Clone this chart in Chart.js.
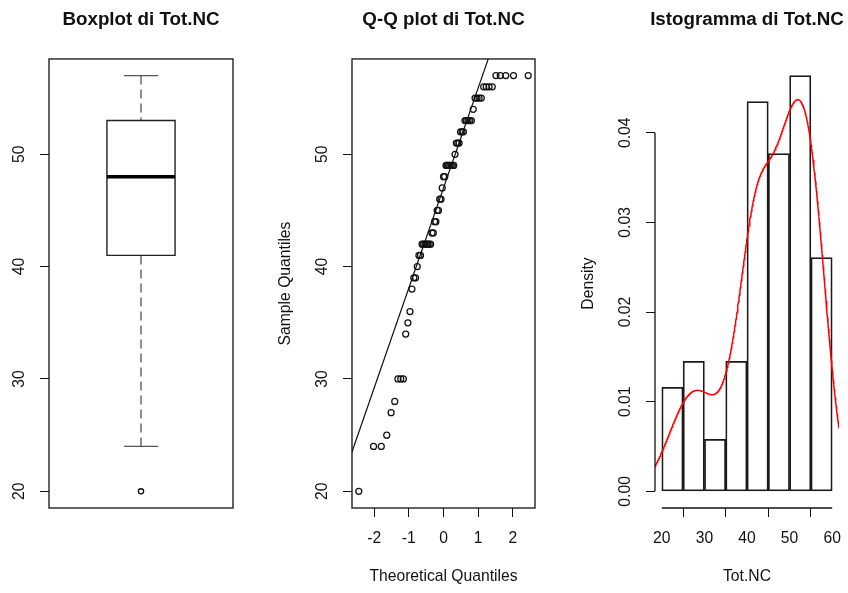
<!DOCTYPE html>
<html>
<head>
<meta charset="utf-8">
<script src="https://cdn.jsdelivr.net/npm/chart.js@4.4.1/dist/chart.umd.min.js"></script>
<style>
html,body{margin:0;padding:0;background:#fff;overflow:hidden;width:848px;height:593px;position:relative;}
canvas{position:absolute;top:0;}
</style>
</head>
<body>
<canvas id="c1" width="282" height="593" style="left:0px"></canvas>
<canvas id="c2" width="343" height="593" style="left:272px"></canvas>
<canvas id="c3" width="344" height="593" style="left:575px"></canvas>
<script>
// ---- data ----
const sample = [20,24,24,25,27,28,30,30,30,34,35,36,38,39,39,40,41,41,
  42,42,42,42,42,42,42,43,43,44,44,45,45,46,46,47,48,48,
  49,49,49,49,49,49,49,50,51,51,51,52,52,52,53,53,53,53,53,
  54,55,55,55,55,56,56,56,56,57,57,57,57,57];
const sampleTicks = [20, 30, 40, 50];
const qqXTicks = [-2, -1, 0, 1, 2];
const histBreaks = [20, 25, 30, 35, 40, 45, 50, 55, 60];
const histXTicks = [20, 30, 40, 50, 60];
const histYTicks = [0, 0.01, 0.02, 0.03, 0.04];
const panelTitles = ['Boxplot di Tot.NC', 'Q-Q plot di Tot.NC', 'Istogramma di Tot.NC'];
const axisTitles = { qqX: 'Theoretical Quantiles', qqY: 'Sample Quantiles', histX: 'Tot.NC', histY: 'Density' };

// ---- statistics (as R computes them) ----
const sorted = sample.slice().sort((a, b) => a - b);
const n = sorted.length;
function quantile7(x, p) { const h = (x.length - 1) * p, lo = Math.floor(h); return lo + 1 < x.length ? x[lo] + (h - lo) * (x[lo + 1] - x[lo]) : x[lo]; }
function qnorm(p) {
  const a=[-3.969683028665376e+01,2.209460984245205e+02,-2.759285104469687e+02,1.383577518672690e+02,-3.066479806614716e+01,2.506628277459239e+00];
  const b=[-5.447609879822406e+01,1.615858368580409e+02,-1.556989798598866e+02,6.680131188771972e+01,-1.328068155288572e+01];
  const c=[-7.784894002430293e-03,-3.223964580411365e-01,-2.400758277161838e+00,-2.549732539343734e+00,4.374664141464968e+00,2.938163982698783e+00];
  const d=[7.784695709041462e-03,3.224671290700398e-01,2.445134137142996e+00,3.754408661907416e+00];
  const pl = 0.02425;
  if (p < pl) { const q = Math.sqrt(-2*Math.log(p)); return (((((c[0]*q+c[1])*q+c[2])*q+c[3])*q+c[4])*q+c[5])/((((d[0]*q+d[1])*q+d[2])*q+d[3])*q+1); }
  if (p > 1 - pl) { const q = Math.sqrt(-2*Math.log(1-p)); return -(((((c[0]*q+c[1])*q+c[2])*q+c[3])*q+c[4])*q+c[5])/((((d[0]*q+d[1])*q+d[2])*q+d[3])*q+1); }
  const q = p - 0.5, r = q*q;
  return (((((a[0]*r+a[1])*r+a[2])*r+a[3])*r+a[4])*r+a[5])*q/(((((b[0]*r+b[1])*r+b[2])*r+b[3])*r+b[4])*r+1);
}
function extRange(lo, hi) { const e = 0.04 * (hi - lo); return [lo - e, hi + e]; }

// boxplot.stats (fivenum hinges, coef 1.5)
const n4 = Math.floor((n + 3) / 2) / 2;
const fiveIdx = [1, n4, (n + 1) / 2, n + 1 - n4, n];
const five = fiveIdx.map(dd => 0.5 * (sorted[Math.floor(dd) - 1] + sorted[Math.ceil(dd) - 1]));
const iqrB = five[3] - five[1];
const inside = sorted.filter(v => v >= five[1] - 1.5 * iqrB && v <= five[3] + 1.5 * iqrB);
const box = { lo: inside[0], q1: five[1], med: five[2], q3: five[3], hi: inside[inside.length - 1] };
const outliers = sorted.filter(v => v < box.lo || v > box.hi);

// Q-Q
const qqPoints = sorted.map((v, i) => ({ x: qnorm((i + 0.5) / n), y: v }));
const qy1 = quantile7(sorted, 0.25), qy3 = quantile7(sorted, 0.75);
const qx1 = qnorm(0.25), qx3 = qnorm(0.75);
const qqSlope = (qy3 - qy1) / (qx3 - qx1), qqInt = qy1 - qqSlope * qx1;

// histogram (right-closed, include lowest)
const histDensity = [];
for (let i = 0; i < histBreaks.length - 1; i++) {
  const a = histBreaks[i], b = histBreaks[i + 1];
  const cnt = sorted.filter(v => (i === 0 ? v >= a : v > a) && v <= b).length;
  histDensity.push({ x: (a + b) / 2, y: cnt / (n * (b - a)) });
}
// density() with bw.nrd0
const mean = sorted.reduce((s, v) => s + v, 0) / n;
const sd = Math.sqrt(sorted.reduce((s, v) => s + (v - mean) ** 2, 0) / (n - 1));
const iqr7 = quantile7(sorted, 0.75) - quantile7(sorted, 0.25);
const bw = 0.9 * Math.min(sd, iqr7 / 1.34) * Math.pow(n, -0.2);
const kde = [];
{
  const from = sorted[0] - 3 * bw, to = sorted[n - 1] + 3 * bw, m = 512;
  for (let k = 0; k < m; k++) {
    const x = from + (to - from) * k / (m - 1);
    let s = 0;
    for (const v of sorted) { const z = (x - v) / bw; s += Math.exp(-0.5 * z * z); }
    kde.push({ x, y: s / (n * bw * Math.sqrt(2 * Math.PI)) });
  }
}

// ---- styling ----
const FONT = "'Liberation Sans', Arial, Helvetica, sans-serif";
const AX = 15.7, TT = 18.8, INK = '#111';
Chart.defaults.font.family = FONT;
Chart.defaults.font.size = AX;
Chart.defaults.color = INK;

const rPlot = {
  id: 'rPlot',
  afterDatasetsDraw(chart, args, opts) {
    const ctx = chart.ctx, a = chart.chartArea;
    ctx.save();
    ctx.strokeStyle = INK; ctx.lineWidth = 1.3;
    if (opts.box) ctx.strokeRect(a.left, a.top, a.right - a.left, a.bottom - a.top);
    (opts.lines || []).forEach(id => {
      const s = chart.scales[id], t = s.ticks;
      const p0 = s.getPixelForValue(t[0].value), p1 = s.getPixelForValue(t[t.length - 1].value);
      ctx.beginPath();
      if (s.isHorizontal()) { ctx.moveTo(p0, s.top); ctx.lineTo(p1, s.top); }
      else { ctx.moveTo(s.right, p0); ctx.lineTo(s.right, p1); }
      ctx.stroke();
    });
    ctx.restore();
  }
};
const fixTicks = vals => s => { s.ticks = vals.map(v => ({ value: v })); };
const gridTicks = { display: true, drawOnChartArea: false, drawTicks: true, tickLength: 9, color: INK, lineWidth: 1 };
function yAxis(range, ticks, W, pad, fmt, title) {
  return {
    type: 'linear', position: 'left', min: range[0], max: range[1],
    afterBuildTicks: fixTicks(ticks), afterFit: s => { s.width = W; },
    ticks: { minRotation: 90, maxRotation: 90, crossAlign: 'center', padding: pad, autoSkip: false, color: INK, font: { size: AX }, callback: fmt },
    grid: gridTicks, border: { display: false },
    title: title ? { display: true, text: title, color: INK, font: { size: AX }, padding: { top: 4.1, bottom: 0 } } : { display: false }
  };
}
function xAxis(range, ticks, title) {
  return {
    type: 'linear', position: 'bottom', min: range[0], max: range[1], offset: false,
    afterBuildTicks: fixTicks(ticks), afterFit: s => { s.height = 85; },
    ticks: { padding: 12.6, autoSkip: false, maxRotation: 0, minRotation: 0, color: INK, font: { size: AX }, callback: v => String(v) },
    grid: gridTicks, border: { display: false },
    title: { display: true, text: title, color: INK, font: { size: AX }, padding: { top: 0, bottom: 6.6 } }
  };
}
const dummyRight = W => ({ type: 'linear', position: 'right', display: true, afterFit: s => { s.width = W; }, ticks: { display: false }, grid: { display: false }, border: { display: false } });
function basePlugins(title, rp) {
  return {
    title: { display: true, text: title, color: INK, font: { size: TT, weight: 'bold' }, padding: { top: 8.7, bottom: 27.7 }, fullSize: true, align: 'center' },
    legend: { display: false }, tooltip: { enabled: false }, rPlot: rp
  };
}
const common = { responsive: false, animation: false, devicePixelRatio: 1, events: [] };
const seg = (pts, extra) => Object.assign({ data: pts, showLine: true, pointRadius: 0, tension: 0, fill: false }, extra);

// ---- panel 1: boxplot ----
const sampleRange = extRange(sorted[0], sorted[n - 1]);
const boxHalf = 0.2, stapleHalf = 0.1;
new Chart(document.getElementById('c1'), {
  type: 'scatter',
  data: { datasets: [
    seg([{ x: 1 - boxHalf, y: box.med }, { x: 1 + boxHalf, y: box.med }], { borderColor: '#000', borderWidth: 3.6 }),
    seg([{ x: 1 - boxHalf, y: box.q1 }, { x: 1 + boxHalf, y: box.q1 }, { x: 1 + boxHalf, y: box.q3 }, { x: 1 - boxHalf, y: box.q3 }, { x: 1 - boxHalf, y: box.q1 }],
        { borderColor: '#222', borderWidth: 1.4, borderCapStyle: 'square', borderJoinStyle: 'miter' }),
    seg([{ x: 1, y: box.hi }, { x: 1, y: box.q3 }], { borderColor: '#555', borderWidth: 1.3, borderDash: [9, 5] }),
    seg([{ x: 1, y: box.lo }, { x: 1, y: box.q1 }], { borderColor: '#555', borderWidth: 1.3, borderDash: [9, 5] }),
    seg([{ x: 1 - stapleHalf, y: box.hi }, { x: 1 + stapleHalf, y: box.hi }], { borderColor: '#555', borderWidth: 1.4 }),
    seg([{ x: 1 - stapleHalf, y: box.lo }, { x: 1 + stapleHalf, y: box.lo }], { borderColor: '#555', borderWidth: 1.4 }),
    { data: outliers.map(v => ({ x: 1, y: v })), pointRadius: 2.6, pointBorderWidth: 1.3, pointBorderColor: INK, pointBackgroundColor: 'rgba(0,0,0,0)' }
  ] },
  options: Object.assign({}, common, {
    layout: { padding: { top: 0, left: 0, right: 0, bottom: 85 } },
    scales: {
      x: { type: 'linear', min: 0.46, max: 1.54, display: false },
      y: yAxis(sampleRange, sampleTicks, 49, 11.3, v => String(v), null),
      yR: dummyRight(49)
    },
    plugins: basePlugins(panelTitles[0], { box: true })
  }),
  plugins: [rPlot]
});

// ---- panel 2: Q-Q plot ----
const qqRange = extRange(qqPoints[0].x, qqPoints[n - 1].x);
new Chart(document.getElementById('c2'), {
  type: 'scatter',
  data: { datasets: [
    seg([{ x: qqRange[0] - 1, y: qqInt + qqSlope * (qqRange[0] - 1) }, { x: qqRange[1] + 1, y: qqInt + qqSlope * (qqRange[1] + 1) }], { borderColor: INK, borderWidth: 1.2 }),
    { data: qqPoints, pointRadius: 3, pointBorderWidth: 1.25, pointBorderColor: INK, pointBackgroundColor: 'rgba(0,0,0,0)' }
  ] },
  options: Object.assign({}, common, {
    layout: { padding: 0 },
    scales: {
      x: xAxis(qqRange, qqXTicks, axisTitles.qqX),
      y: yAxis(sampleRange, sampleTicks, 80, 11.3, v => String(v), axisTitles.qqY),
      yR: dummyRight(80)
    },
    plugins: basePlugins(panelTitles[1], { box: true })
  }),
  plugins: [rPlot]
});

// ---- panel 3: histogram + density ----
const histXRange = extRange(histBreaks[0], histBreaks[histBreaks.length - 1]);
const histYRange = extRange(0, Math.max(...histDensity.map(p => p.y)));
new Chart(document.getElementById('c3'), {
  type: 'bar',
  data: { datasets: [
    { type: 'line', data: kde, borderColor: '#ff0000', borderWidth: 1.5, pointRadius: 0, tension: 0, fill: false, order: 0 },
    { type: 'bar', data: histDensity, backgroundColor: 'rgba(0,0,0,0)', borderColor: '#1a1a1a', borderWidth: 1.1, borderSkipped: false,
      barPercentage: 1, categoryPercentage: 1, order: 1 }
  ] },
  options: Object.assign({}, common, {
    layout: { padding: 0 },
    scales: {
      x: xAxis(histXRange, histXTicks, axisTitles.histX),
      y: yAxis(histYRange, histYTicks, 80, 4.7, v => v.toFixed(2), axisTitles.histY),
      yR: dummyRight(80)
    },
    plugins: basePlugins(panelTitles[2], { box: false, lines: ['x', 'y'] })
  }),
  plugins: [rPlot]
});
</script>
</body>
</html>
